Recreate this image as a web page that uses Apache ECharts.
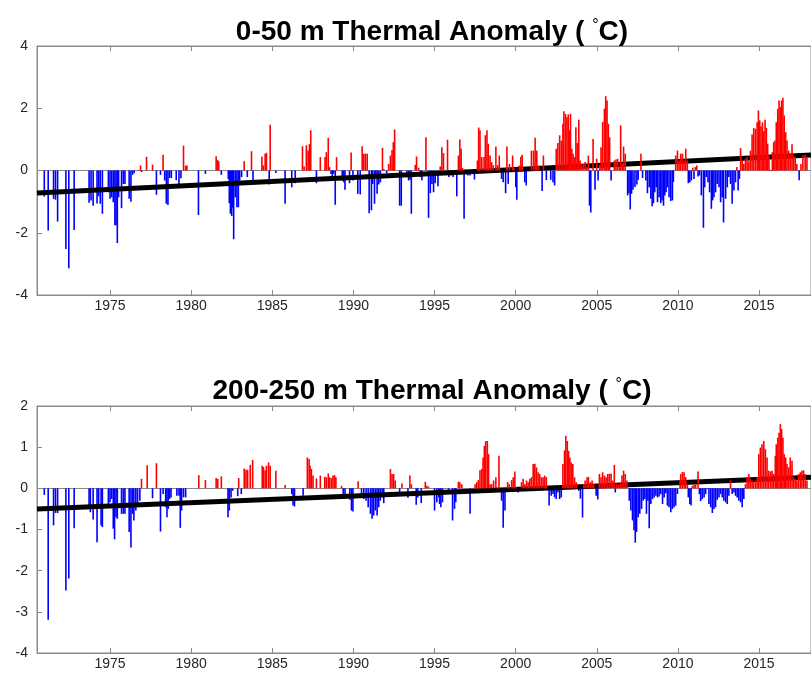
<!DOCTYPE html>
<html>
<head>
<meta charset="utf-8">
<script src="https://cdn.jsdelivr.net/npm/echarts@6/dist/echarts.min.js"></script>
<style>
  html, body { margin: 0; padding: 0; background: #fff; }
  #chart { width: 811px; height: 684px; }
</style>
</head>
<body>
<div id="chart"></div>
<script>
// tick years on the x axes
var xTicks = [1975, 1980, 1985, 1990, 1995, 2000, 2005, 2010, 2015];

// 0-50 m monthly anomalies [year, degC]
var shallowAnom = [
  [1970.95,-0.84],[1971.19,-1.93],[1971.52,-0.91],[1971.64,-0.94],[1971.77,-1.64],[1972.28,-2.52],[1972.46,-3.14],[1972.79,-1.91],
  [1973.71,-1.04],[1973.83,-0.96],[1973.96,-1.13],[1974.20,-1.06],[1974.30,-0.83],[1974.40,-1.07],[1974.53,-1.39],[1974.90,-0.70],
  [1975.00,-0.91],[1975.10,-0.86],[1975.20,-1.02],[1975.30,-1.76],[1975.37,-1.76],[1975.45,-2.33],[1975.53,-0.86],[1975.71,-1.21],
  [1975.82,-0.43],[1975.92,-0.43],[1976.18,-0.91],[1976.29,-1.00],[1976.39,-0.14],[1976.49,-0.09],[1976.74,0.02],[1976.88,0.16],
  [1976.94,-0.05],[1977.25,0.44],[1977.62,0.19],[1977.86,-0.78],[1978.11,-0.14],[1978.27,0.51],
  [1978.37,-0.32],[1978.47,-1.07],[1978.57,-1.11],[1978.67,-0.24],[1978.78,-0.24],[1979.08,-0.31],[1979.25,-0.43],[1979.37,-0.25],
  [1979.53,0.80],[1979.66,0.16],[1979.74,0.16],[1980.45,-1.43],[1980.88,-0.11],[1981.54,0.46],[1981.62,0.34],[1981.70,0.30],
  [1981.86,-0.14],[1982.29,-0.27],[1982.35,-1.05],[1982.42,-1.39],[1982.50,-1.46],[1982.56,-1.20],[1982.62,-2.21],[1982.72,-0.86],
  [1982.82,-1.18],[1982.91,-1.18],[1982.99,-0.32],[1983.11,-0.21],[1983.27,0.30],[1983.46,-0.21],[1983.72,0.62],[1983.81,-0.45],
  [1984.36,0.45],[1984.44,0.16],[1984.56,0.54],[1984.64,0.57],[1984.81,-0.45],[1984.87,1.47],[1985.22,-0.08],[1985.79,-1.07],
  [1986.20,-0.54],[1986.41,-0.41],[1986.86,0.78],[1986.96,0.13],[1987.10,0.81],[1987.21,0.64],[1987.29,0.85],[1987.37,1.29],
  [1987.72,-0.41],[1987.96,0.43],[1988.25,0.43],[1988.33,0.59],[1988.45,1.05],[1988.53,0.11],[1988.62,-0.11],[1988.70,-0.27],
  [1988.78,-0.11],[1988.88,-1.10],[1988.96,0.43],[1989.31,-0.32],[1989.41,-0.38],[1989.48,-0.62],[1989.76,-0.41],[1989.86,0.58],
  [1989.97,-0.32],[1990.27,-0.75],[1990.42,-0.77],[1990.54,0.78],[1990.64,0.54],[1990.74,0.54],[1990.85,0.54],[1990.97,-1.37],
  [1991.11,-1.28],[1991.19,-0.43],[1991.30,-1.07],[1991.38,-0.21],[1991.46,-0.75],[1991.56,-0.45],[1991.66,-0.38],[1991.79,0.73],
  [1991.87,0.05],[1992.05,-0.09],[1992.17,0.21],[1992.28,0.48],[1992.38,0.66],[1992.46,0.91],[1992.54,1.32],[1992.85,-1.13],
  [1992.95,-1.13],[1993.30,-0.16],[1993.40,-0.32],[1993.48,-0.30],[1993.57,-1.39],[1993.81,0.18],[1993.89,0.45],[1994.02,0.09],
  [1994.12,-0.21],[1994.22,-0.31],[1994.47,1.07],[1994.63,-1.52],[1994.74,-0.73],[1994.84,-0.43],[1994.94,-0.70],[1995.04,-0.41],
  [1995.21,-0.51],[1995.35,0.13],[1995.45,0.75],[1995.55,0.56],[1995.80,0.99],[1995.88,-0.21],[1996.02,-0.16],[1996.15,-0.21],
  [1996.37,-0.83],[1996.47,0.48],[1996.56,1.00],[1996.64,0.70],[1996.72,0.08],[1996.82,-1.55],[1997.05,-0.16],[1997.19,-0.16],
  [1997.46,-0.29],[1997.64,0.32],[1997.72,1.38],[1997.80,1.29],[1997.91,0.43],[1998.05,0.43],[1998.13,1.13],[1998.23,1.29],
  [1998.31,0.86],[1998.42,0.48],[1998.52,0.27],[1998.62,0.17],[1998.78,0.77],[1998.89,0.17],[1998.99,0.48],[1999.13,-0.27],
  [1999.23,-0.38],[1999.38,-0.73],[1999.46,0.77],[1999.54,-0.43],[1999.62,0.21],[1999.81,0.48],[1999.89,0.09],[2000.01,-0.54],
  [2000.07,-0.94],[2000.22,0.16],[2000.32,0.44],[2000.40,0.51],[2000.56,-0.38],[2000.65,-0.48],[2000.97,0.64],[2001.10,0.64],
  [2001.20,1.05],[2001.30,0.64],[2001.42,0.16],[2001.63,-0.66],[2001.71,0.48],[2001.89,-0.31],[2002.16,-0.30],[2002.30,-0.38],
  [2002.40,-0.48],[2002.50,0.70],[2002.60,0.88],[2002.71,1.13],[2002.81,0.96],[2002.91,1.50],[2002.97,1.90],[2003.07,1.82],
  [2003.16,1.71],[2003.24,1.80],[2003.32,1.29],[2003.38,1.82],[2003.46,0.70],[2003.54,0.54],[2003.63,0.43],[2003.71,1.39],
  [2003.79,0.88],[2003.89,1.63],[2003.97,0.32],[2004.08,0.19],[2004.18,0.21],[2004.28,0.27],[2004.38,0.11],[2004.48,0.48],
  [2004.55,-1.13],[2004.63,-1.35],[2004.77,1.01],[2004.89,-0.62],[2004.99,0.38],[2005.08,-0.32],[2005.18,0.19],[2005.26,0.75],
  [2005.36,1.56],[2005.47,1.99],[2005.55,2.39],[2005.63,2.25],[2005.71,1.50],[2005.79,1.07],[2005.88,-0.32],[2006.08,0.32],
  [2006.18,0.35],[2006.28,0.38],[2006.39,0.11],[2006.47,1.45],[2006.57,0.21],[2006.65,0.77],[2006.75,0.54],[2006.90,-0.80],
  [2006.98,-0.73],[2007.06,-1.25],[2007.14,-0.75],[2007.23,-0.62],[2007.35,-0.53],[2007.47,-0.45],[2007.55,-0.30],[2007.72,0.54],
  [2007.82,-0.24],[2008.02,-0.32],[2008.12,-0.73],[2008.23,-0.54],[2008.33,-0.91],[2008.41,-1.15],[2008.49,-1.05],[2008.57,-0.70],
  [2008.66,-0.54],[2008.74,-1.02],[2008.84,-0.86],[2008.94,-1.05],[2009.02,-0.96],[2009.11,-1.13],[2009.19,-0.80],[2009.27,-0.70],
  [2009.35,-0.54],[2009.45,-0.86],[2009.56,-0.98],[2009.66,-0.96],[2009.72,-0.37],[2009.86,0.48],[2009.97,0.64],[2010.07,0.32],
  [2010.17,0.54],[2010.28,0.54],[2010.38,0.32],[2010.48,0.70],[2010.58,0.32],[2010.64,-0.41],[2010.73,-0.38],[2010.83,-0.32],
  [2010.91,0.09],[2010.99,-0.27],[2011.07,0.11],[2011.16,0.16],[2011.24,-0.19],[2011.32,-0.16],[2011.44,-0.80],[2011.57,-1.84],
  [2011.65,-0.54],[2011.75,-0.21],[2011.85,-0.38],[2011.95,-0.70],[2012.06,-1.23],[2012.14,-0.96],[2012.22,-0.86],[2012.32,-0.70],
  [2012.42,-0.43],[2012.53,-0.54],[2012.63,-1.02],[2012.73,-0.86],[2012.81,-1.67],[2012.94,-0.91],[2013.04,-0.54],[2013.14,-0.21],
  [2013.24,-0.43],[2013.34,-1.07],[2013.45,-0.64],[2013.55,-0.38],[2013.63,0.11],[2013.71,-0.64],[2013.79,-0.27],[2013.86,0.72],
  [2013.96,0.32],[2014.06,0.21],[2014.16,0.38],[2014.26,0.43],[2014.37,0.30],[2014.47,0.64],[2014.57,1.16],[2014.67,1.37],
  [2014.78,1.34],[2014.88,1.55],[2014.96,1.93],[2015.04,1.61],[2015.12,1.41],[2015.21,1.55],[2015.29,1.26],[2015.37,1.63],
  [2015.45,1.37],[2015.53,0.86],[2015.61,0.48],[2015.70,0.02],[2015.76,-0.02],[2015.82,0.59],[2015.90,0.91],[2015.98,0.96],
  [2016.06,1.55],[2016.15,1.98],[2016.23,2.25],[2016.31,2.04],[2016.39,2.25],[2016.47,2.34],[2016.55,1.77],[2016.64,1.23],
  [2016.72,0.96],[2016.82,0.64],[2016.92,0.54],[2017.03,0.84],[2017.13,0.48],[2017.23,0.43],[2017.33,0.21],[2017.47,-0.31],
  [2017.58,0.21],[2017.70,0.48],[2017.84,0.51],[2017.95,0.43]
];

// 200-250 m monthly anomalies [year, degC]
var deepAnom = [
  [1970.95,-0.16],[1971.19,-3.19],[1971.52,-0.90],[1971.64,-0.60],[1971.77,-0.60],[1972.28,-2.48],[1972.46,-2.19],[1972.79,-0.97],
  [1973.71,-0.50],[1973.79,-0.58],[1973.96,-0.76],[1974.20,-1.31],[1974.30,-0.50],[1974.45,-0.90],[1974.53,-0.94],[1974.90,-0.42],
  [1975.00,-0.34],[1975.10,-0.26],[1975.20,-0.98],[1975.28,-1.24],[1975.37,-0.70],[1975.45,-0.74],[1975.71,-0.62],[1975.82,-0.62],
  [1975.92,-0.62],[1976.18,-1.06],[1976.29,-1.44],[1976.39,-0.62],[1976.47,-0.78],[1976.59,-0.54],[1976.70,-0.42],[1976.84,-0.30],
  [1976.94,0.23],[1977.29,0.56],[1977.62,-0.24],[1977.86,0.61],[1978.11,-1.05],[1978.27,-0.14],[1978.43,-0.46],[1978.51,-0.70],
  [1978.59,-0.50],[1978.67,-0.26],[1978.76,-0.22],[1979.12,-0.18],[1979.25,-0.18],[1979.33,-0.96],[1979.41,-0.54],[1979.53,-0.22],
  [1979.66,-0.22],[1980.47,0.32],[1980.88,0.20],[1981.54,0.25],[1981.64,0.23],[1981.86,0.29],[1982.27,-0.70],[1982.35,-0.54],
  [1982.46,-0.22],[1982.56,-0.06],[1982.87,-0.19],[1982.93,0.25],[1983.09,-0.14],[1983.27,0.48],[1983.38,0.45],[1983.48,0.45],
  [1983.64,0.57],[1983.79,0.69],[1984.38,0.55],[1984.46,0.52],[1984.56,0.44],[1984.64,0.55],[1984.77,0.63],[1984.87,0.55],
  [1985.22,0.43],[1985.79,0.08],[1986.20,-0.14],[1986.28,-0.42],[1986.37,-0.44],[1986.90,-0.18],[1987.16,0.75],[1987.27,0.71],
  [1987.33,0.55],[1987.41,0.47],[1987.51,0.31],[1987.72,0.24],[1987.96,0.31],[1988.23,0.28],[1988.33,0.27],[1988.45,0.36],
  [1988.53,0.27],[1988.64,0.25],[1988.74,0.31],[1988.84,0.32],[1988.92,0.27],[1989.27,0.06],[1989.37,-0.22],[1989.48,-0.23],
  [1989.78,-0.28],[1989.88,-0.54],[1989.97,-0.56],[1990.29,0.17],[1990.50,-0.22],[1990.64,-0.26],[1990.78,-0.30],[1990.91,-0.46],
  [1991.05,-0.62],[1991.15,-0.74],[1991.25,-0.66],[1991.36,-0.54],[1991.46,-0.66],[1991.56,-0.46],[1991.66,-0.30],[1991.77,-0.22],
  [1991.87,-0.36],[1992.28,0.47],[1992.38,0.35],[1992.48,0.35],[1992.58,0.19],[1992.85,-0.10],[1992.99,0.12],[1993.36,-0.23],
  [1993.48,0.31],[1993.57,0.10],[1993.87,-0.40],[1993.97,-0.22],[1994.18,-0.36],[1994.43,0.16],[1994.53,0.06],[1994.63,0.04],
  [1995.00,-0.54],[1995.14,-0.34],[1995.25,-0.22],[1995.31,-0.38],[1995.39,-0.46],[1995.49,-0.34],[1995.86,-0.11],[1996.11,-0.78],
  [1996.23,-0.50],[1996.31,-0.34],[1996.47,0.16],[1996.56,0.15],[1996.68,0.10],[1997.19,-0.62],[1997.50,0.10],[1997.60,0.15],
  [1997.70,0.20],[1997.80,0.44],[1997.91,0.47],[1997.99,0.75],[1998.07,1.03],[1998.15,1.15],[1998.25,1.15],[1998.33,0.83],
  [1998.42,0.10],[1998.52,0.10],[1998.64,0.19],[1998.78,0.27],[1998.87,0.02],[1998.97,0.79],[1999.13,-0.30],[1999.23,-0.96],
  [1999.34,-0.54],[1999.50,0.15],[1999.60,0.10],[1999.75,0.20],[1999.85,0.27],[1999.95,0.41],[2000.05,0.02],[2000.15,-0.10],
  [2000.36,0.15],[2000.46,0.23],[2000.56,0.10],[2000.67,0.19],[2000.77,0.15],[2000.87,0.23],[2000.97,0.27],[2001.08,0.59],
  [2001.18,0.60],[2001.28,0.51],[2001.38,0.39],[2001.48,0.35],[2001.59,0.27],[2001.69,0.27],[2001.79,0.31],[2001.89,0.27],
  [2002.06,-0.42],[2002.19,-0.18],[2002.30,-0.14],[2002.40,-0.22],[2002.50,-0.26],[2002.60,-0.10],[2002.71,-0.26],[2002.81,-0.22],
  [2002.91,0.59],[2003.01,0.92],[2003.09,1.28],[2003.18,1.15],[2003.26,0.91],[2003.34,0.75],[2003.42,0.63],[2003.52,0.59],
  [2003.63,0.27],[2003.73,0.15],[2003.89,-0.06],[2003.99,-0.25],[2004.12,-0.71],[2004.20,0.10],[2004.28,0.19],[2004.40,0.27],
  [2004.48,0.28],[2004.61,0.15],[2004.71,0.19],[2004.81,0.10],[2004.96,-0.18],[2005.06,-0.27],[2005.16,0.35],[2005.26,0.27],
  [2005.36,0.39],[2005.47,0.31],[2005.57,0.27],[2005.67,0.35],[2005.77,0.35],[2005.88,0.36],[2005.98,0.19],[2006.08,0.57],
  [2006.14,-0.10],[2006.24,0.12],[2006.35,0.10],[2006.45,0.15],[2006.55,0.31],[2006.65,0.43],[2006.75,0.35],[2006.86,0.19],
  [2007.00,-0.30],[2007.10,-0.54],[2007.20,-0.78],[2007.29,-1.02],[2007.37,-1.32],[2007.45,-1.06],[2007.55,-0.70],[2007.65,-0.62],
  [2007.76,-0.50],[2007.86,-0.30],[2007.96,-0.26],[2008.06,-0.62],[2008.15,-0.30],[2008.23,-0.97],[2008.33,-0.38],[2008.43,-0.26],
  [2008.53,-0.22],[2008.64,-0.18],[2008.74,-0.22],[2008.84,-0.20],[2008.94,-0.14],[2009.05,-0.38],[2009.15,-0.22],[2009.25,-0.12],
  [2009.35,-0.42],[2009.45,-0.46],[2009.56,-0.58],[2009.66,-0.50],[2009.76,-0.46],[2009.86,-0.42],[2009.97,-0.14],[2010.13,0.19],
  [2010.17,0.35],[2010.28,0.40],[2010.38,0.39],[2010.48,0.27],[2010.58,0.10],[2010.64,-0.22],[2010.73,-0.38],[2010.81,-0.42],
  [2010.89,0.06],[2010.99,0.08],[2011.09,0.10],[2011.24,0.41],[2011.32,-0.14],[2011.40,-0.31],[2011.50,-0.26],[2011.61,-0.22],
  [2011.71,-0.14],[2011.81,-0.02],[2011.91,-0.38],[2012.02,-0.46],[2012.12,-0.60],[2012.22,-0.50],[2012.32,-0.46],[2012.42,-0.28],
  [2012.53,-0.22],[2012.63,-0.14],[2012.73,-0.22],[2012.83,-0.30],[2012.94,-0.34],[2013.04,-0.38],[2013.14,-0.18],[2013.24,0.19],
  [2013.34,-0.14],[2013.45,-0.10],[2013.55,-0.18],[2013.65,-0.22],[2013.75,-0.30],[2013.86,-0.34],[2013.96,-0.46],[2014.06,-0.26],
  [2014.16,0.10],[2014.26,0.27],[2014.37,0.35],[2014.47,0.23],[2014.57,0.19],[2014.67,0.15],[2014.78,0.19],[2014.88,0.27],
  [2014.98,0.83],[2015.08,0.99],[2015.18,1.07],[2015.29,1.15],[2015.39,0.95],[2015.49,0.75],[2015.59,0.43],[2015.70,0.41],
  [2015.80,0.43],[2015.90,0.35],[2016.00,0.79],[2016.06,1.07],[2016.15,1.23],[2016.23,1.35],[2016.31,1.56],[2016.39,1.44],
  [2016.47,1.23],[2016.55,0.83],[2016.64,0.75],[2016.72,0.59],[2016.82,0.51],[2016.92,0.75],[2017.03,0.67],[2017.13,0.27],
  [2017.23,0.23],[2017.33,0.19],[2017.43,0.35],[2017.54,0.39],[2017.64,0.43],[2017.74,0.44],[2017.84,0.35],[2017.95,0.19]
];

// linear trends, start and end points
var shallowTrend = [[1970.5, -0.72], [2018.2, 0.50]];
var deepTrend = [[1970.5, -0.50], [2018.2, 0.27]];

var myChart = echarts.init(document.getElementById("chart"));

var font = "'Liberation Sans', Arial, Helvetica, sans-serif";
var axisGray = "#8a8a8a";
var labelColor = "#262626";

function xAxisFor(grid, top) {
  return {
    type: "value",
    gridIndex: grid,
    position: top ? "top" : "bottom",
    min: 1970.5,
    max: 2018.2,
    splitLine: { show: false },
    axisLine: { show: true, onZero: false, lineStyle: { color: axisGray, width: 1 } },
    axisTick: { show: true, inside: true, length: 5, lineStyle: { color: axisGray }, customValues: xTicks },
    axisLabel: {
      show: !top,
      customValues: xTicks,
      formatter: function (v) { return String(v); },
      color: labelColor,
      fontSize: 14,
      fontFamily: font,
      margin: 4,
    },
  };
}

function yAxisFor(grid, min, max, step) {
  return {
    type: "value",
    gridIndex: grid,
    min: min,
    max: max,
    interval: step,
    splitLine: { show: false },
    axisLine: { show: true, lineStyle: { color: axisGray, width: 1 } },
    axisTick: { show: true, inside: true, length: 5, lineStyle: { color: axisGray } },
    axisLabel: { color: labelColor, fontSize: 14, fontFamily: font, margin: 9 },
  };
}

function barsFor(data, grid, positive) {
  return {
    type: "bar",
    xAxisIndex: grid * 2,
    yAxisIndex: grid,
    data: data.filter(function (d) { return positive ? d[1] > 0 : d[1] < 0; }),
    barWidth: 1.6,
    barGap: "-100%",
    itemStyle: { color: positive ? "#ff0000" : "#0000ff" },
    z: positive ? 4 : 2,
    silent: true,
    animation: false,
  };
}

function trendFor(data, grid) {
  return {
    type: "line",
    xAxisIndex: grid * 2,
    yAxisIndex: grid,
    data: data,
    symbol: "none",
    lineStyle: { color: "#000", width: 5 },
    z: 3,
    silent: true,
    animation: false,
    markLine: {
      silent: true,
      symbol: "none",
      label: { show: false },
      lineStyle: { color: axisGray, width: 1, type: "solid" },
      data: [{ yAxis: 0 }],
      z: 1,
      animation: false,
    },
  };
}

function titleFor(text, top) {
  return {
    text: text,
    left: 427,
    top: top,
    textAlign: "center",
    textStyle: {
      fontFamily: font,
      fontSize: 28,
      fontWeight: "bold",
      color: "#000",
      rich: {
        d: { fontSize: 16, fontWeight: "normal", verticalAlign: "top", fontFamily: font, color: "#000" },
      },
    },
  };
}

var option = {
  animation: false,
  backgroundColor: "#fff",
  title: [
    titleFor("0-50 m Thermal Anomaly ( {d|°}C)", 13),
    titleFor("200-250 m Thermal Anomaly ( {d|°}C)", 372),
  ],
  grid: [
    { left: 37, right: -4, top: 46, height: 249, show: true, borderColor: axisGray, borderWidth: 1 },
    { left: 37, right: -4, top: 406, height: 247, show: true, borderColor: axisGray, borderWidth: 1 },
  ],
  xAxis: [xAxisFor(0, false), xAxisFor(0, true), xAxisFor(1, false), xAxisFor(1, true)],
  yAxis: [yAxisFor(0, -4, 4, 2), yAxisFor(1, -4, 2, 1)],
  series: [
    barsFor(shallowAnom, 0, false),
    trendFor(shallowTrend, 0),
    barsFor(shallowAnom, 0, true),
    barsFor(deepAnom, 1, false),
    trendFor(deepTrend, 1),
    barsFor(deepAnom, 1, true),
  ],
};

myChart.setOption(option);
</script>
</body>
</html>
